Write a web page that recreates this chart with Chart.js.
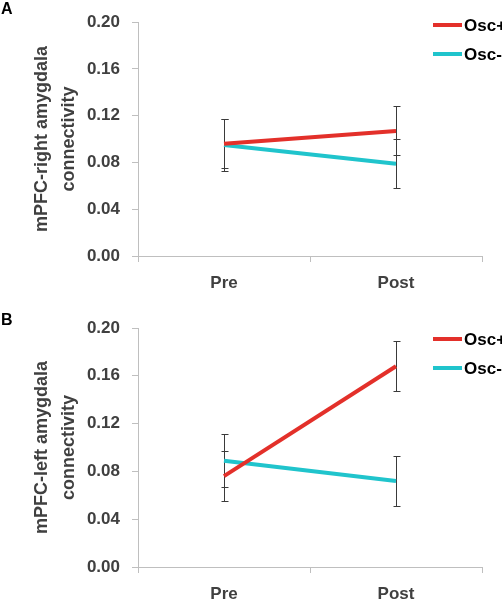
<!DOCTYPE html>
<html>
<head>
<meta charset="utf-8">
<script src="https://cdn.jsdelivr.net/npm/chart.js@4/dist/chart.umd.min.js"></script>
<style>
  body { margin: 0; background: #fff; }
  #wrap { position: relative; width: 502px; height: 600px; overflow: hidden; }
  .panel { position: absolute; left: 0; width: 502px; height: 300px; }
  .panel canvas { display: block; }
  .tag { position: absolute; left: 1px; font: bold 16px 'Liberation Sans', Arial, sans-serif; color: #000; }
</style>
</head>
<body>
<div id="wrap">
  <div class="panel" style="top:0"><canvas id="chartA" width="502" height="300"></canvas></div>
  <div class="panel" style="top:300px"><canvas id="chartB" width="502" height="300"></canvas></div>
  <div class="tag" style="top:0px">A</div>
  <div class="tag" style="top:311px">B</div>
</div>
<script>
// --- Data ---
const categories = ['Pre', 'Post'];
const seriesNames = ['Osc+', 'Osc-'];
const yTicks = [0, 0.04, 0.08, 0.12, 0.16, 0.20];

// panel A: mPFC-right amygdala
const rightOscPlus = [0.096, 0.107];
const rightOscPlusErr = [0.021, 0.021];
const rightOscMinus = [0.095, 0.079];
const rightOscMinusErr = [0.022, 0.021];

// panel B: mPFC-left amygdala
const leftOscPlus = [0.076, 0.168];
const leftOscPlusErr = [0.021, 0.021];
const leftOscMinus = [0.089, 0.072];
const leftOscMinusErr = [0.022, 0.021];

// --- Style ---
const COLORS = {
  plus: '#e3302a',
  minus: '#20c4cc',
  axis: '#bfbfbf',
  text: '#404040',
  err: '#3a3a3a'
};
const FONT = "'Liberation Sans', Arial, sans-serif";
Chart.defaults.font.family = FONT;
Chart.defaults.font.weight = 'bold';
Chart.defaults.color = COLORS.text;

// error bars drawn under the lines
const errorBars = {
  id: 'errorBars',
  beforeDatasetsDraw(chart) {
    const { ctx, scales: { x, y } } = chart;
    ctx.save();
    ctx.strokeStyle = COLORS.err;
    ctx.lineWidth = 1;
    chart.data.datasets.forEach(ds => {
      ds.errors.forEach((e, i) => {
        const px = Math.round(x.getPixelForValue(i)) + 0.5;
        const top = Math.round(y.getPixelForValue(ds.data[i] + e)) + 0.5;
        const bot = Math.round(y.getPixelForValue(ds.data[i] - e)) + 0.5;
        ctx.beginPath();
        ctx.moveTo(px, top); ctx.lineTo(px, bot);
        ctx.moveTo(px - 3, top); ctx.lineTo(px + 4, top);
        ctx.moveTo(px - 3, bot); ctx.lineTo(px + 4, bot);
        ctx.stroke();
      });
    });
    ctx.restore();
  }
};

// legend in the top-right corner, line sample + label
const sideLegend = {
  id: 'sideLegend',
  afterDraw(chart, args, opts) {
    const { ctx } = chart;
    ctx.save();
    ctx.font = `bold 17px ${FONT}`;
    ctx.textBaseline = 'middle';
    ctx.fillStyle = '#000';
    chart.data.datasets.forEach((ds, i) => {
      const y = opts.rows[i];
      ctx.strokeStyle = ds.borderColor;
      ctx.lineWidth = 4;
      ctx.beginPath();
      ctx.moveTo(opts.x, y); ctx.lineTo(opts.x + 29, y);
      ctx.stroke();
      ctx.fillText(ds.label, opts.x + 31, y + 1);
    });
    ctx.restore();
  }
};

const makeChart = (id, title, plus, plusErr, minus, minusErr, cfg) => {
  const ctx = document.getElementById(id).getContext('2d');
  return new Chart(ctx, {
    type: 'line',
    data: {
      labels: categories,
      datasets: [
        { label: seriesNames[0], data: plus, errors: plusErr, borderColor: COLORS.plus, borderWidth: 4, pointRadius: 0 },
        { label: seriesNames[1], data: minus, errors: minusErr, borderColor: COLORS.minus, borderWidth: 4, pointRadius: 0 }
      ]
    },
    options: {
      responsive: false,
      animation: false,
      layout: { padding: { top: cfg.top, right: 20, left: 0, bottom: 0 } },
      plugins: {
        legend: { display: false },
        tooltip: { enabled: false },
        sideLegend: { x: 433, rows: cfg.legendRows }
      },
      scales: {
        x: {
          offset: true,
          grid: { offset: true, drawOnChartArea: false, drawTicks: true, tickLength: 6, color: COLORS.axis },
          border: { color: COLORS.axis },
          ticks: { font: { size: 17, weight: 'bold' }, padding: 11, color: COLORS.text },
          afterFit: s => { s.height = cfg.xHeight; }
        },
        y: {
          min: 0,
          max: 0.2,
          afterBuildTicks: s => { s.ticks = yTicks.map(v => ({ value: v })); },
          grid: { drawOnChartArea: false, drawTicks: true, tickLength: 6, color: COLORS.axis },
          border: { color: COLORS.axis },
          ticks: { font: { size: 17, weight: 'bold' }, padding: 12, color: COLORS.text, callback: v => Number(v).toFixed(2) },
          title: {
            display: true,
            text: [title, 'connectivity'],
            font: { size: 18, weight: 'bold', lineHeight: 1.5 },
            color: COLORS.text,
            padding: { top: 29, bottom: 0 }
          },
          afterFit: s => { s.width = 138; }
        }
      }
    },
    plugins: [errorBars, sideLegend]
  });
};

makeChart('chartA', 'mPFC-right amygdala', rightOscPlus, rightOscPlusErr, rightOscMinus, rightOscMinusErr,
  { top: 16, xHeight: 44, legendRows: [25, 54] });
makeChart('chartB', 'mPFC-left amygdala', leftOscPlus, leftOscPlusErr, leftOscMinus, leftOscMinusErr,
  { top: 28, xHeight: 33, legendRows: [39, 68] });
</script>
</body>
</html>
